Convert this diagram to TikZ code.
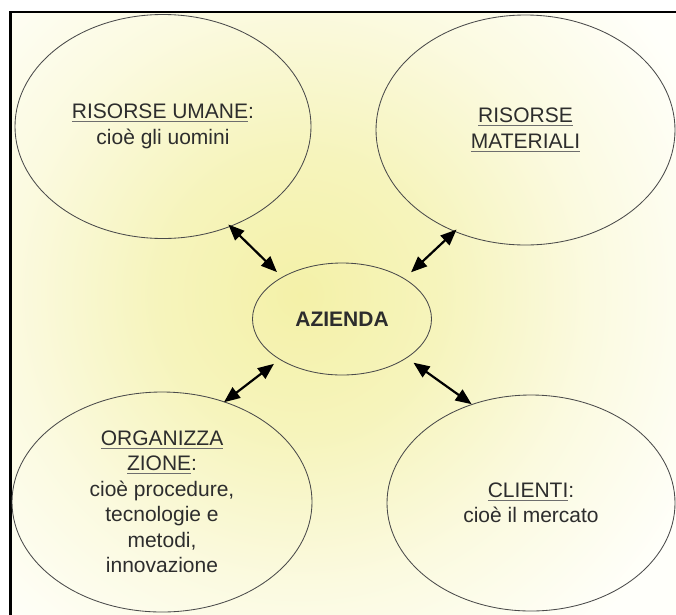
\documentclass[tikz,border=0pt]{standalone}
\usepackage{fontspec}
\setmainfont{Liberation Sans}
\usetikzlibrary{shapes.geometric,arrows.meta}
\definecolor{yel}{RGB}{244,241,168}
\definecolor{yelb}{RGB}{246,244,188}
\definecolor{yelc}{RGB}{251,250,224}
\definecolor{pale}{RGB}{255,255,250}
\definecolor{edgec}{RGB}{75,75,75}
\definecolor{txt}{RGB}{45,45,45}
\definecolor{ulc}{RGB}{110,110,110}
\pgfdeclareradialshading{bgshade}{\pgfpoint{0bp}{0bp}}{color(0bp)=(yel); color(140bp)=(yelb); color(290bp)=(yelc); color(440bp)=(pale); color(700bp)=(pale)}
\newcommand\ulx[1]{\setbox0\hbox{#1}\rlap{\color{ulc}\rule[-3.5pt]{\wd0}{1.2pt}}\box0}
\begin{document}
\begin{tikzpicture}[x=1pt,y=-1pt,
  bubble/.style={ellipse, draw=edgec, line width=0.85pt, inner sep=0pt, align=center,
    text=txt, font=\fontsize{21}{25.5}\selectfont},
  link/.style={{Triangle[length=16pt,width=13pt]}-{Triangle[length=16pt,width=13pt]},
    line width=2.2pt, black}]
\useasboundingbox (0,0) rectangle (676,614);
\begin{scope}
  \clip (10.5,12) rectangle (690,630);
  \node[inner sep=0pt, outer sep=0pt] (bg) at (300,295) {\pgfuseshading{bgshade}};
\end{scope}
\draw[line width=2.6pt] (10.5,630) -- (10.5,12) -- (690,12);

\node[bubble, minimum width=296pt, minimum height=224pt] (rum) at (163,126.5)
  {\ulx{RISORSE UMANE}:\\cioè gli uomini};
\node[bubble, minimum width=299pt, minimum height=230pt] (rmat) at (525.5,130)
  {\ulx{RISORSE}\\\ulx{MATERIALI}};
\node[bubble, minimum width=179pt, minimum height=112pt,
  font=\bfseries\fontsize{21}{25.5}\selectfont] (az) at (342,319) {AZIENDA};
\node[bubble, minimum width=300pt, minimum height=220pt] (org) at (162,502)
  {\ulx{ORGANIZZA}\\\ulx{ZIONE}:\\cioè procedure,\\tecnologie e\\metodi,\\innovazione};
\node[bubble, minimum width=288pt, minimum height=216pt] (cli) at (531,503)
  {\ulx{CLIENTI}:\\cioè il mercato};

\draw[link, shorten <=-3pt, shorten >=7pt] (rum.-56) -- (az.145);
\draw[link, shorten <=-3pt, shorten >=9pt] (rmat.235) -- (az.33);
\draw[link, shorten <=7pt, shorten >=-1pt] (az.213) -- (org.58);
\draw[link, shorten <=8pt, shorten >=0pt] (az.-31.4) -- (cli.121.4);
\end{tikzpicture}
\end{document}
